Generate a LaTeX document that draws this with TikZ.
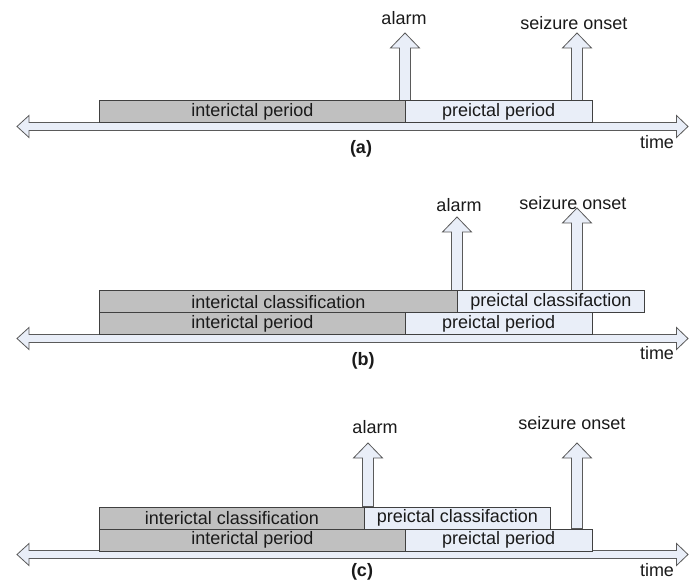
\documentclass[tikz,border=0pt]{standalone}
\usepackage{fontspec}
\setmainfont{Liberation Sans}
\definecolor{grayfill}{HTML}{C0C0C0}
\definecolor{bluefill}{HTML}{E9EEF8}
\definecolor{boxline}{HTML}{404040}
\definecolor{arrline}{HTML}{5A5A5A}
\definecolor{txt}{HTML}{1A1A1A}
\newcommand\upblock[4]{% #1 x, #2 tip y, #3 bottom y, #4 name of tip
  \draw[blockarrow] (#1-5.5,#3) -- (#1-5.5,#2+15) -- (#1-14.5,#2+15) -- (#1,#2) coordinate (#4)
    -- (#1+14.5,#2+15) -- (#1+5.5,#2+15) -- (#1+5.5,#3) -- cycle;}
\newcommand\timeaxis[2]{% #1 centre y, #2 name
  \draw[blockarrow] (17,#1) coordinate (#2L) -- (29,#1-11) -- (29,#1-4) -- (676.5,#1-4) -- (676.5,#1-11)
    -- (688,#1) coordinate (#2R) -- (676.5,#1+11) -- (676.5,#1+4) -- (29,#1+4) -- (29,#1+11) -- cycle;}
\begin{document}
\begin{tikzpicture}[x=1pt,y=-1pt,
  cell/.style={draw=boxline, line width=0.9pt, minimum height=22pt, inner sep=0pt,
    anchor=north west, text=txt, font=\fontsize{18}{20}\selectfont},
  ictal/.style={cell, fill=grayfill},
  preic/.style={cell, fill=bluefill},
  blockarrow/.style={draw=arrline, line width=0.8pt, fill=bluefill, line join=miter},
  lbl/.style={inner sep=0pt, text=txt, font=\fontsize{18}{20}\selectfont},
  tag/.style={inner sep=0pt, text=txt, font=\fontsize{18}{20}\selectfont\bfseries}]
\useasboundingbox (0,0) rectangle (699,585);
\fill[white] (0,0) rectangle (699,585);

% ---------- (a) ----------
\timeaxis{126.5}{axA}
\upblock{405}{33}{100.5}{tipAlarmA}
\upblock{577}{33}{100.5}{tipSeizA}
\node[ictal, minimum width=306pt] (ipA) at (99,100.5) {interictal period};
\node[preic, minimum width=186.5pt] (ppA) at (405,100.5) {preictal period};
\node[lbl] (alarmA) at (404,18) {alarm};
\node[lbl] (seizA) at (574,23) {seizure onset};
\node[tag] (tagA) at (361,148.5) {(a)};
\node[lbl] (timeA) at (657,142) {time};

% ---------- (b) ----------
\timeaxis{338.5}{axB}
\upblock{457}{217}{290.5}{tipAlarmB}
\upblock{577}{208}{290.5}{tipSeizB}
\node[ictal, minimum width=358pt] (icB) at (99,290.5) {interictal classification};
\node[preic, minimum width=187pt] (pcB) at (457,290.5) {preictal classifaction};
\node[ictal, minimum width=306pt] (ipB) at (99,312.5) {interictal period};
\node[preic, minimum width=186.5pt] (ppB) at (405,312.5) {preictal period};
\node[lbl] (alarmB) at (459,205) {alarm};
\node[lbl] (seizB) at (573,203) {seizure onset};
\node[tag] (tagB) at (363,360.5) {(b)};
\node[lbl] (timeB) at (657,353.5) {time};

% ---------- (c) ----------
\timeaxis{554.5}{axC}
\upblock{368}{443}{506.5}{tipAlarmC}
\upblock{577}{443}{528.5}{tipSeizC}
\node[ictal, minimum width=265pt] (icC) at (99,506.5) {interictal classification};
\node[preic, minimum width=186pt] (pcC) at (364,506.5) {preictal classifaction};
\node[ictal, minimum width=306pt] (ipC) at (99,528.5) {interictal period};
\node[preic, minimum width=186.5pt] (ppC) at (405,528.5) {preictal period};
\node[lbl] (alarmC) at (375,427) {alarm};
\node[lbl] (seizC) at (572,423) {seizure onset};
\node[tag] (tagC) at (362,571.5) {(c)};
\node[lbl] (timeC) at (657,570) {time};
\end{tikzpicture}
\end{document}
